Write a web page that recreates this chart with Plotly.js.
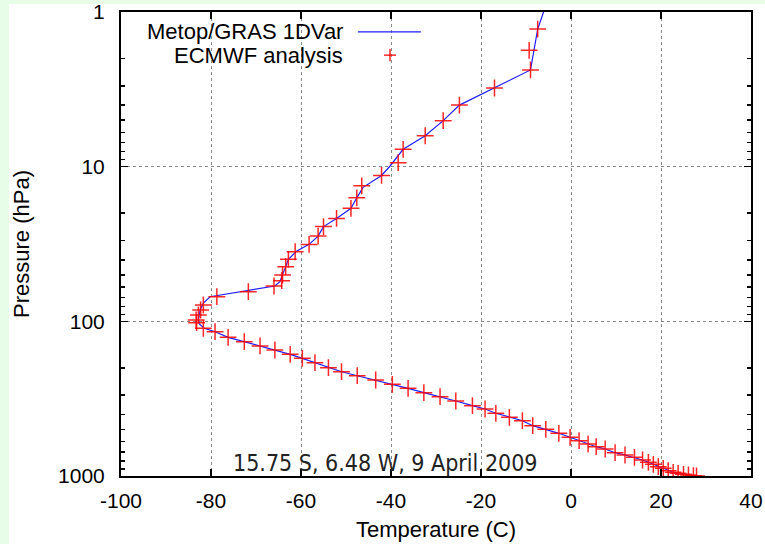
<!DOCTYPE html>
<html>
<head>
<meta charset="utf-8">
<script src="https://cdn.plot.ly/plotly-3.0.1.min.js"></script>
<style>
  html, body { margin: 0; padding: 0; width: 765px; height: 544px; background: #e8fde8; overflow: hidden; }
  #chart { position: absolute; left: 9px; top: 0px; width: 756px; height: 544px; background: #ffffff; }
  #topstrip { position: absolute; left: 0; top: 0; width: 765px; height: 4px; background: #e8fde8; z-index: 10; }
</style>
</head>
<body>
<div id="chart"></div>
<div id="topstrip"></div>
<script>
// ECMWF analysis (red crosses): pressure (hPa) and temperature (C)
var ecmwfP = [1.29,1.77,2.37,3.10,4.00,5.04,6.31,7.72,9.43,11.4,13.3,15.9,18.6,21.6,24.4,28.1,31.8,35.5,39.7,44.3,
  50.2,54.6,59.1,64.3,69.3,78.4,84.5,91.0,98.0,102,110.9,116.7,126.9,135.4,144.3,153.2,163.4,173.4,185.1,199.4,
  211.7,224.7,239.5,255.4,271.0,289.3,307.1,327.3,351.1,368.8,393.2,417.4,438.9,472.8,498.9,529.6,561.9,591.1,620.9,646.4,
  669.0,706.9,731.5,757.0,787.9,815.3,840.1,870.6,891.7,924.1,946.2,960.5,975.0,985.1,995.5,1000];
var ecmwfT = [-7.4,-9.3,-9.0,-17.0,-24.8,-28.4,-32.4,-37.3,-38.4,-42.1,-46.5,-47.6,-48.9,-52.1,-55.0,-56.2,-58.2,-61.3,-62.8,-63.4,
  -64.1,-64.3,-66.0,-71.7,-78.7,-81.7,-82.3,-82.8,-83.3,-83.2,-81.7,-79.1,-76.2,-72.6,-69.1,-65.8,-62.4,-59.7,-56.9,-53.9,
  -51.0,-47.5,-43.4,-39.7,-36.2,-32.7,-29.1,-25.6,-21.9,-19.1,-16.7,-13.7,-10.8,-8.5,-5.6,-2.7,-0.2,1.8,3.8,5.6,
  7.6,9.8,12.0,14.1,15.9,17.2,18.3,19.4,20.5,21.6,22.7,23.8,25.0,26.1,27.2,27.9];

// Metop/GRAS 1DVar retrieval (blue line)
var varP = [1.0,1.29,2.37,3.10,4.00,5.04,6.31,7.72,9.9,11.4,13.6,15.9,18.6,21.6,24.4,28.1,31.8,35.2,39.7,44.3,
  50.2,55.4,59.1,69.3,76.1,84.5,98.0,104,110.9,116.7,126.9,135.4,144.3,153.2,163.4,173.4,185.1,199.4,
  211.7,224.7,239.5,255.4,271.0,289.3,307.1,327.3,351.1,368.8,393.2,417.4,438.9,472.8,498.9,529.6,561.9,591.1,620.9,646.4,
  669.0,706.9,731.5,757.0,787.9,815.3,840.1,870.6,891.7,924.1,946.2,960.5,975.0,985.1,995.5,1000];
var varT = [-6.1,-7.4,-9.0,-17.0,-24.8,-28.4,-32.4,-37.3,-40.2,-42.1,-46.2,-47.6,-48.9,-52.1,-55.0,-56.2,-58.2,-61.0,-62.8,-63.4,
  -64.1,-64.7,-65.8,-80.2,-81.7,-82.4,-82.8,-82.6,-81.5,-79.1,-76.2,-72.6,-69.1,-65.8,-62.4,-59.7,-56.9,-53.9,
  -51.0,-47.5,-43.4,-39.7,-36.2,-32.7,-29.1,-25.6,-21.9,-19.1,-16.7,-13.7,-10.8,-8.5,-5.6,-2.7,-0.2,1.8,3.8,5.6,
  7.6,9.8,12.0,14.1,15.9,17.2,18.3,19.4,20.5,21.6,22.7,23.8,25.0,26.1,27.2,27.9];

var xTicks = [-100,-80,-60,-40,-20,0,20,40];
var yTicks = [1,10,100,1000];
var yTickText = ['1','10','100','1000'];
var yMinor = [2,3,4,5,6,7,8,9,20,30,40,50,60,70,80,90,200,300,400,500,600,700,800,900];

var seriesNames = ['Metop/GRAS 1DVar','ECMWF analysis'];
var xTitle = 'Temperature (C)';
var yTitle = 'Pressure (hPa)';
var label = '15.75 S, 6.48 W, 9 April 2009';

var font = 'Liberation Sans, Arial, sans-serif';

var traces = [
  { x: varT, y: varP, type: 'scatter', mode: 'lines', name: seriesNames[0],
    line: { color: '#1f1fff', width: 1.2 }, showlegend: false, hoverinfo: 'skip' },
  { x: ecmwfT, y: ecmwfP, type: 'scatter', mode: 'markers', name: seriesNames[1],
    marker: { symbol: 'cross-thin-open', size: 12, color: 'rgba(255,0,0,0.85)', line: { color: 'rgba(255,0,0,0.85)', width: 1.5 } },
    showlegend: false, hoverinfo: 'skip' }
];

var layout = {
  width: 756, height: 544,
  margin: { l: 112, r: 14, t: 12, b: 68 },
  paper_bgcolor: '#ffffff', plot_bgcolor: '#ffffff',
  font: { family: font, size: 21, color: '#000000' },
  xaxis: {
    range: [-100, 40], tickvals: xTicks, ticktext: xTicks.map(String),
    ticks: 'inside', ticklen: 7, tickwidth: 1.5, tickcolor: '#000',
    showline: true, linecolor: '#000', linewidth: 2, mirror: 'ticks',
    showgrid: true, gridcolor: '#888', griddash: 'dot', gridwidth: 1,
    zeroline: false, ticklabelstandoff: 5,
    tickfont: { family: font, size: 21, color: '#000' },
    title: { text: xTitle, font: { family: font, size: 22, color: '#000' }, standoff: 10 }
  },
  yaxis: {
    type: 'log', range: [3, 0], tickvals: yTicks, ticktext: yTickText,
    ticks: 'inside', ticklen: 7, tickwidth: 1.5, tickcolor: '#000',
    showline: true, linecolor: '#000', linewidth: 2, mirror: 'ticks',
    showgrid: true, gridcolor: '#888', griddash: 'dot', gridwidth: 1,
    zeroline: false, ticklabelstandoff: 10, ticklabeloverflow: 'allow',
    minor: { tickvals: yMinor, ticks: 'inside', ticklen: 4, tickwidth: 1.5, tickcolor: '#000', showgrid: false },
    tickfont: { family: font, size: 21, color: '#000' },
    title: { text: yTitle, font: { family: font, size: 22, color: '#000' }, standoff: 30 }
  },
  showlegend: false,
  annotations: [
    { xref: 'paper', yref: 'paper', x: 0.3556, y: 0.957, xanchor: 'right', yanchor: 'middle',
      text: seriesNames[0], showarrow: false, font: { family: font, size: 22, color: '#000' } },
    { xref: 'paper', yref: 'paper', x: 0.3556, y: 0.907, xanchor: 'right', yanchor: 'middle',
      text: seriesNames[1], showarrow: false, font: { family: font, size: 22, color: '#000' } },
    { xref: 'paper', yref: 'paper', x: 0.4206, y: 0.028, xanchor: 'center', yanchor: 'middle',
      text: label, showarrow: false, font: { family: 'DejaVu Sans Condensed, DejaVu Sans, sans-serif', size: 23, color: '#222' } }
  ],
  shapes: [
    { type: 'line', xref: 'paper', yref: 'paper', x0: 0.376, x1: 0.476, y0: 0.957, y1: 0.957,
      line: { color: '#1f1fff', width: 1.2 } },
    { type: 'line', xref: 'paper', yref: 'paper', x0: 0.4175, x1: 0.4365, y0: 0.907, y1: 0.907,
      line: { color: 'rgba(255,0,0,0.85)', width: 1.5 } },
    { type: 'line', xref: 'paper', yref: 'paper', x0: 0.427, x1: 0.427, y0: 0.894, y1: 0.920,
      line: { color: 'rgba(255,0,0,0.85)', width: 1.5 } }
  ]
};

Plotly.newPlot('chart', traces, layout, { staticPlot: true, displayModeBar: false });
</script>
</body>
</html>
